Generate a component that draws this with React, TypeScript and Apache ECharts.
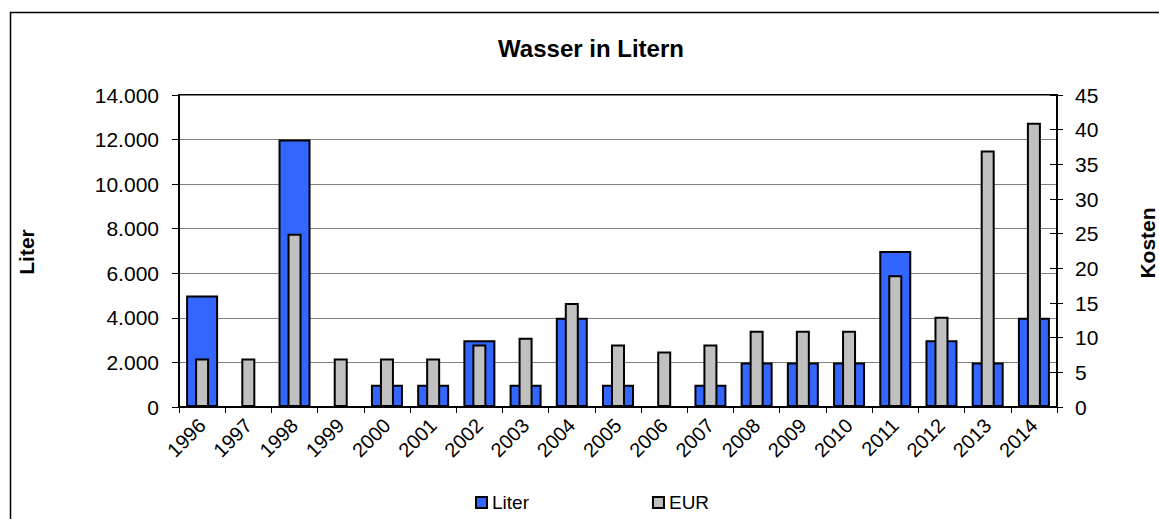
import React, { useEffect, useRef } from "react";
import * as echarts from "echarts";

const years = ["1996", "1997", "1998", "1999", "2000", "2001", "2002", "2003", "2004", "2005", "2006", "2007", "2008", "2009", "2010", "2011", "2012", "2013", "2014"];
const literValues = [5000, 0, 12000, 0, 1000, 1000, 3000, 1000, 4000, 1000, 0, 1000, 2000, 2000, 2000, 7000, 3000, 2000, 4000];
const eurValues = [7, 7, 25, 7, 7, 7, 9, 10, 15, 9, 8, 9, 11, 11, 11, 19, 13, 37, 41];

const literAxis = { min: 0, max: 14000, interval: 2000 };
const kostenAxis = { min: 0, max: 45, interval: 5 };

const titleText = "Wasser in Litern";
const leftAxisName = "Liter";
const rightAxisName = "Kosten";

const FONT = "'Liberation Sans', Arial, Helvetica, sans-serif";

const fmtDE = (v: number) => String(Math.round(v)).replace(/\B(?=(\d{3})+(?!\d))/g, ".");

export default function App() {
  const ref = useRef<HTMLDivElement>(null);
  useEffect(() => {
    document.body.style.margin = "0";
    if (!ref.current) return;
    const chart = echarts.init(ref.current, null, { renderer: "svg" });
    chart.setOption({
      animation: false,
      backgroundColor: "#ffffff",
      textStyle: { fontFamily: FONT, color: "#000" },
      grid: {
        left: 179,
        right: 102,
        top: 95,
        bottom: 112,
        show: true,
        borderColor: "#000",
        borderWidth: 2,
        backgroundColor: "#fff",
      },
      legend: {
        data: ["Liter", "EUR"],
        left: 475,
        top: 493,
        padding: 0,
        itemWidth: 11,
        itemHeight: 11,
        itemGap: 123,
        icon: "rect",
        textStyle: { fontFamily: FONT, fontSize: 19, color: "#000" },
      },
      graphic: [
        {
          type: "rect",
          shape: { x: 10.5, y: 12.5, width: 1300, height: 700 },
          style: { fill: "none", stroke: "#000", lineWidth: 1.5 },
          silent: true,
        },
        {
          type: "text",
          x: 591,
          y: 48.5,
          style: {
            text: titleText,
            font: `bold 24px ${FONT}`,
            fill: "#000",
            textAlign: "center",
            textVerticalAlign: "middle",
          },
        },
        {
          type: "text",
          x: 26,
          y: 252,
          rotation: Math.PI / 2,
          style: {
            text: leftAxisName,
            font: `bold 21px ${FONT}`,
            fill: "#000",
            textAlign: "center",
            textVerticalAlign: "middle",
          },
        },
        {
          type: "text",
          x: 1147,
          y: 243,
          rotation: Math.PI / 2,
          style: {
            text: rightAxisName,
            font: `bold 21px ${FONT}`,
            fill: "#000",
            textAlign: "center",
            textVerticalAlign: "middle",
          },
        },
      ],
      xAxis: [
        {
          type: "category",
          data: years,
          boundaryGap: true,
          axisLine: { show: true, lineStyle: { color: "#000", width: 2 } },
          axisTick: { show: true, alignWithLabel: false, length: 6, lineStyle: { color: "#000", width: 1 } },
          axisLabel: {
            rotate: 45,
            margin: 15,
            interval: 0,
            fontFamily: FONT,
            fontSize: 20,
            color: "#000",
          },
          splitLine: { show: false },
        },
        {
          type: "category",
          data: years,
          boundaryGap: true,
          show: false,
        },
      ],
      yAxis: [
        {
          type: "value",
          position: "left",
          min: literAxis.min,
          max: literAxis.max,
          interval: literAxis.interval,
          axisLine: { show: true, lineStyle: { color: "#000", width: 2 } },
          axisTick: { show: true, length: 7, lineStyle: { color: "#000", width: 1 } },
          axisLabel: {
            margin: 20,
            fontFamily: FONT,
            fontSize: 21,
            color: "#000",
            formatter: (v: number) => fmtDE(v),
          },
          splitLine: { show: true, lineStyle: { color: "#808080", width: 1 } },
        },
        {
          type: "value",
          position: "right",
          min: kostenAxis.min,
          max: kostenAxis.max,
          interval: kostenAxis.interval,
          axisLine: { show: true, lineStyle: { color: "#000", width: 2 } },
          axisTick: { show: true, inside: true, length: 7, lineStyle: { color: "#000", width: 1 } },
          axisLabel: {
            margin: 18,
            fontFamily: FONT,
            fontSize: 21,
            color: "#000",
          },
          splitLine: { show: false },
        },
        {
          type: "value",
          position: "right",
          min: kostenAxis.min,
          max: kostenAxis.max,
          interval: kostenAxis.interval,
          axisLine: { show: false },
          axisTick: { show: true, inside: false, length: 6, lineStyle: { color: "#000", width: 1 } },
          axisLabel: { show: false },
          splitLine: { show: false },
        },
      ],
      series: [
        {
          name: "Liter",
          type: "bar",
          xAxisIndex: 0,
          yAxisIndex: 0,
          data: literValues,
          barWidth: 32,
          itemStyle: { color: "#3366FF", borderColor: "#000", borderWidth: 2 },
        },
        {
          name: "EUR",
          type: "bar",
          xAxisIndex: 1,
          yAxisIndex: 1,
          data: eurValues,
          barWidth: 14,
          itemStyle: { color: "#C0C0C0", borderColor: "#000", borderWidth: 2 },
        },
      ],
    });
    return () => chart.dispose();
  }, []);
  return <div ref={ref} style={{ width: 1159, height: 519 }} />;
}
